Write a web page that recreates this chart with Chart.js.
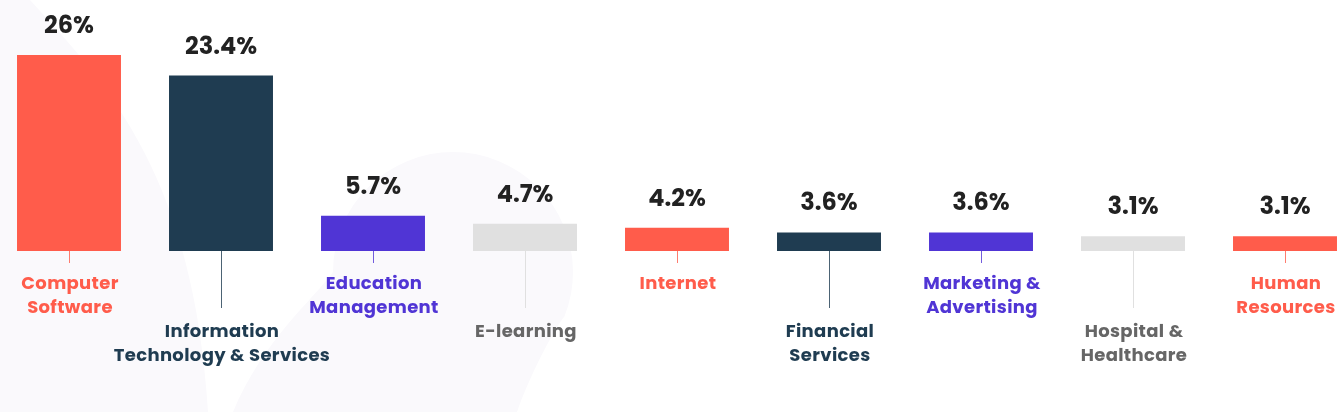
<!DOCTYPE html>
<html>
<head>
<meta charset="utf-8">
<script src="https://cdn.jsdelivr.net/npm/chart.js@4.4.1/dist/chart.umd.min.js"></script>
<style>
    html, body { margin: 0; padding: 0; background: #fff; overflow: hidden; }
    #wrap { position: absolute; left: -7px; top: 0; width: 1368px; height: 412px; }
</style>
</head>
<body>
<div id="wrap"><canvas id="industryChart"></canvas></div>
<script>
// industries and their share
const categories = [
    ["Computer", "Software"],
    ["Information", "Technology & Services"],
    ["Education", "Management"],
    ["E-learning"],
    ["Internet"],
    ["Financial", "Services"],
    ["Marketing &", "Advertising"],
    ["Hospital &", "Healthcare"],
    ["Human", "Resources"]
];
const shares = [26, 23.4, 5.7, 4.7, 4.2, 3.6, 3.6, 3.1, 3.1];
const valueLabels = ["26%", "23.4%", "5.7%", "4.7%", "4.2%", "3.6%", "3.6%", "3.1%", "3.1%"];

const coral = "#ff5c4b";
const navy = "#1f3c51";
const purple = "#5035d5";
const grey = "#e0e0e0";
const barColors = [coral, navy, purple, grey, coral, navy, purple, grey, coral];
const textColors = [coral, navy, purple, "#666666", coral, navy, purple, "#666666", coral];

/**
 * faint shapes behind the bars
 */
const backdrop = {
    id: "backdrop",
    beforeDraw(chart) {
        let c = chart.ctx;
        c.save();
        c.fillStyle = "#faf9fc";
        // left swoosh
        c.beginPath();
        c.moveTo(7, 0);
        c.lineTo(37, 0);
        c.bezierCurveTo(120, 90, 200, 180, 215, 412);
        c.lineTo(7, 412);
        c.closePath();
        c.fill();
        // round drop in the middle
        c.beginPath();
        c.arc(460, 272, 120, Math.PI, 0.12 * Math.PI, false);
        c.bezierCurveTo(560, 330, 535, 380, 524, 412);
        c.lineTo(240, 412);
        c.bezierCurveTo(270, 340, 320, 300, 340, 272);
        c.closePath();
        c.fill();
        c.restore();
    }
};

/**
 * value labels, leader lines and category names
 */
const barLabels = {
    id: "barLabels",
    afterDatasetsDraw(chart) {
        let c = chart.ctx;
        let meta = chart.getDatasetMeta(0);
        let bottom = chart.chartArea.bottom;
        c.save();
        meta.data.forEach((bar, i) => {
            let x = Math.round(bar.x);
            // value on top
            c.fillStyle = "#222222";
            c.font = "bold 24px Poppins, Inter, sans-serif";
            c.letterSpacing = "0px";
            c.textAlign = "center";
            c.textBaseline = "alphabetic";
            c.fillText(valueLabels[i], bar.x, bar.y - 22);

            // leader line, long one for every second bar
            let lower = i % 2 === 1;
            let lineEnd = lower ? 308 : 263;
            c.strokeStyle = barColors[i];
            c.globalAlpha = barColors[i] === grey ? 1 : 0.8;
            c.lineWidth = 1;
            c.beginPath();
            c.moveTo(x + 0.5, bottom);
            c.lineTo(x + 0.5, lineEnd);
            c.stroke();
            c.globalAlpha = 1;

            // category name
            c.fillStyle = textColors[i];
            c.font = "bold 18px Poppins, Inter, sans-serif";
            c.letterSpacing = "0.35px";
            let y0 = lower ? 337 : 289;
            categories[i].forEach((line, j) => {
                c.fillText(line, bar.x + 1, y0 + j * 24);
            });
        });
        c.restore();
    }
};

let ctx = document.getElementById("industryChart").getContext("2d");
let industryChart = new Chart(ctx, {
    type: "bar",
    data: {
        labels: categories,
        datasets: [
            {
                data: shares,
                backgroundColor: barColors,
                borderWidth: 0,
                barPercentage: 0.684,
                categoryPercentage: 1
            }
        ]
    },
    options: {
        responsive: true,
        maintainAspectRatio: false,
        animation: false,
        layout: {
            padding: { top: 55, bottom: 161, left: 0, right: 0 }
        },
        plugins: {
            legend: { display: false },
            tooltip: { enabled: false }
        },
        scales: {
            x: { display: false, grid: { display: false } },
            y: { display: false, min: 1.25, max: 26, grid: { display: false } }
        }
    },
    plugins: [backdrop, barLabels]
});
</script>
</body>
</html>
